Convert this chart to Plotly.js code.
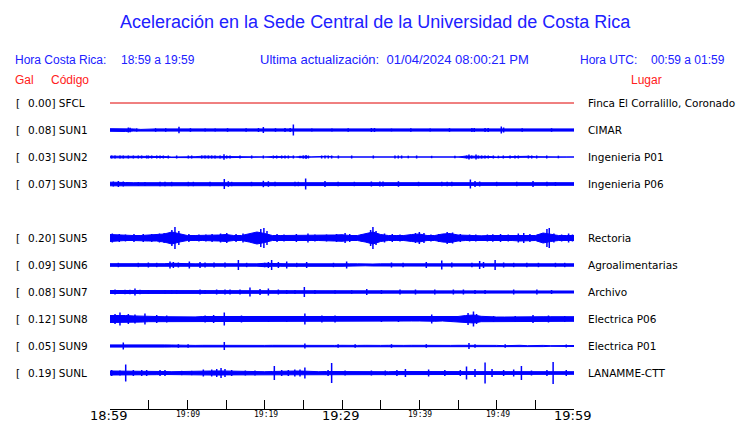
<!DOCTYPE html>
<html><head><meta charset="utf-8">
<script src="https://cdn.plot.ly/plotly-3.0.1.min.js"></script>
<style>html,body{margin:0;padding:0;background:#fff}#chart{width:740px;height:423px}</style>
</head><body><div id="chart"></div>
<script>
// ---- data ----
const codes = ["SFCL","SUN1","SUN2","SUN3","SUN5","SUN6","SUN7","SUN8","SUN9","SUNL"];
const places = ["Finca El Corralillo, Coronado","CIMAR","Ingenieria P01","Ingenieria P06","Rectoria","Agroalimentarias","Archivo","Electrica P06","Electrica P01","LANAMME-CTT"];
const peakGal = ["0.00","0.08","0.03","0.07","0.20","0.09","0.08","0.12","0.05","0.19"];
const rowIndex = [0,1,2,3,5,6,7,8,9,10];
const tickMinutes = [0,5,10,15,20,25,30,35,40,45,50,55,60];
const tickLabels = ["18:59","","19:09","","19:19","","19:29","","19:39","","19:49","","19:59"];
const bigTicks = ["18:59","19:29","19:59"];
// envelope half-amplitudes, sampled each minute 0..60 (display px)
const env_SFCL = [0,0,0,0,0,0,0,0,0,0, 0,0,0,0,0,0,0,0,0,0, 0,0,0,0,0,0,0,0,0,0, 0,0,0,0,0,0,0,0,0,0, 0,0,0,0,0,0,0,0,0,0, 0,0,0,0,0,0,0,0,0,0,0];
const env_SUN1 = [1.8,1.8,2.0,1.6,1.1,1.6,1.6,1.6,1.6,1.6, 1.6,1.3,1.1,1.3,1.6,1.6,1.1,1.3,1.1,1.8, 1.8,1.6,1.6,1.8,1.6,1.1,1.3,1.6,1.6,1.6, 1.6,1.6,1.6,1.8,1.5,1.1,1.3,1.1,1.3,1.1, 1.3,1.6,1.6,1.1,1.3,1.6,1.7,1.8,1.8,1.6, 1.8,1.6,1.6,1.6,1.6,1.1,1.6,1.6,1.6,1.6,1.6];
const env_SUN2 = [1.3,1.3,1.3,1.2,1.3,1.3,1.0,1.0,0.5,0.5, 1.2,0.8,1.3,1.2,1.3,1.2,0.5,0.5,0.5,0.5, 0.5,1.0,1.2,0.8,0.5,1.3,0.5,1.2,1.2,0.5, 0.5,0.5,0.5,0.5,0.6,0.5,0.5,1.2,0.5,0.5, 0.5,0.5,0.5,0.5,0.5,0.5,1.4,1.4,1.3,1.0, 0.6,0.8,1.0,0.5,1.2,0.8,0.5,0.5,0.5,0.5,0.5];
const env_SUN3 = [2.3,2.4,2.0,1.8,1.8,1.8,1.9,1.9,1.8,1.8, 1.8,1.8,1.8,1.9,2.0,1.8,1.8,1.8,1.8,2.0, 2.0,1.8,1.8,1.8,1.8,2.0,1.8,1.9,1.8,1.8, 1.8,1.8,1.8,1.9,2.0,1.8,2.0,1.8,1.8,1.8, 1.8,1.8,1.9,1.8,1.8,1.8,2.5,2.2,1.8,1.8, 1.8,1.8,1.8,1.8,2.2,1.8,1.8,1.8,1.8,1.8,1.8];
const env_SUN5 = [4.0,3.5,3.0,3.0,3.0,3.5,3.5,4.5,6.5,4.5, 3.0,3.0,3.0,3.0,3.5,4.0,3.0,3.0,4.5,6.5, 5.0,3.0,3.0,3.0,3.0,3.0,3.0,3.0,3.0,3.5, 3.8,3.0,3.0,4.5,6.5,4.0,3.0,3.0,3.0,4.0, 4.5,3.0,3.0,4.5,5.0,3.5,3.0,3.0,2.7,3.0, 3.0,3.0,3.0,3.5,3.5,3.0,5.5,4.0,3.0,3.0,3.0];
const env_SUN6 = [1.8,1.7,1.7,1.7,1.7,1.8,1.7,1.8,2.2,1.8, 2.0,1.7,1.8,1.7,1.7,1.7,2.0,1.7,1.7,1.7, 2.2,1.8,1.8,1.7,1.7,1.8,1.7,1.7,1.7,1.8, 1.8,1.7,1.7,1.3,1.5,1.7,1.7,1.7,1.7,1.7, 1.8,1.7,2.0,1.8,1.7,1.7,1.7,2.0,1.8,2.2, 1.8,1.7,1.7,1.7,1.7,1.7,1.7,1.7,1.7,1.7,1.7];
const env_SUN7 = [2.0,2.0,1.8,1.7,1.5,1.6,1.6,1.8,1.8,1.8, 1.5,1.5,1.6,1.5,1.9,1.9,1.9,2.0,1.8,1.6, 1.7,1.6,1.5,1.5,1.5,1.6,1.5,1.5,1.5,1.6, 1.5,1.6,1.5,1.5,1.5,1.5,1.5,1.8,1.8,1.7, 1.8,1.5,1.6,1.5,1.8,1.7,1.5,1.6,1.5,1.5, 1.5,1.5,1.6,1.5,1.5,1.7,1.5,1.5,1.5,1.5,1.5];
const env_SUN8 = [4.0,4.2,4.0,3.6,3.6,3.2,3.0,2.8,2.6,2.5, 2.5,2.6,3.0,3.0,3.2,3.0,2.8,2.7,2.5,2.5, 2.6,2.5,2.6,2.5,2.6,2.8,2.6,3.0,3.0,3.0, 2.5,2.5,2.5,2.5,2.5,2.7,2.5,2.7,2.5,2.5, 2.5,3.0,2.8,2.5,2.6,3.0,4.0,4.5,3.2,2.6, 2.5,2.5,2.7,2.5,3.0,2.7,2.8,2.8,2.8,2.8,2.8];
const env_SUN9 = [1.6,1.7,1.6,1.6,1.6,1.6,1.6,1.6,1.5,1.2, 1.2,1.1,1.2,1.1,1.2,1.3,1.1,1.1,1.2,1.1, 1.1,1.2,1.1,1.2,1.2,1.3,1.1,1.1,1.2,1.1, 1.2,0.8,1.1,1.2,0.8,1.1,1.2,0.8,1.1,1.2, 1.1,0.8,1.1,1.2,1.1,1.2,1.3,1.1,1.1,1.2, 1.1,0.8,1.1,1.2,0.8,1.1,1.1,0.8,1.1,0.8,1.0];
const env_SUNL = [2.5,2.5,2.6,2.4,2.2,2.2,2.2,2.0,1.8,1.8, 1.8,1.9,2.3,2.5,2.6,2.4,2.0,1.9,1.9,1.8, 1.8,2.0,2.4,2.5,2.5,2.4,1.9,1.8,2.0,1.9, 1.8,1.8,1.8,1.8,1.9,1.9,1.8,2.0,2.0,1.8, 1.8,1.9,1.8,1.8,1.8,1.9,2.2,2.3,2.3,2.0, 1.8,1.8,2.2,2.2,2.2,1.9,1.8,2.0,1.8,1.8,1.8];
// spikes: [minute, half-amplitude px]
const spk_SFCL = [];
const spk_SUN1 = [[2.37,2.5],[2.6,2.2],[3.45,1.6],[5.9,1.8],[7.2,1.8],[8.92,3.2],[10.4,1.8],[12.3,1.4],[13.6,1.4],[15.2,1.8],[17.6,1.8],[19.2,2.0],[19.83,3.0],[21.4,1.8],[22.63,2.0],[23.3,2.0],[23.71,5.5],[26.1,1.4],[28.7,1.4],[30.8,1.8],[33.8,2.0],[34.2,2.0],[36.4,1.4],[38.9,1.8],[41.4,1.6],[43.9,1.8],[46.8,2.0],[47.1,2.0],[48.5,2.0],[48.9,2.0],[50.6,3.5],[50.9,2.5],[53.3,1.8],[57.1,1.8]];
const spk_SUN2 = [[14.74,2.8],[25.35,2.0],[46.42,2.5],[47.33,2.5],[6.9,1.5],[8.62,1.5],[16.81,1.5],[18.32,1.5],[19.83,1.5],[23.71,1.5],[24.57,1.3],[29.53,1.5],[31.25,1.5],[34.05,1.5],[38.57,1.3],[39.65,1.5],[41.59,1.2],[44.6,1.2],[50.22,1.3],[50.86,1.5],[56.47,1.5],[57.98,1.3],
  [0.22,1.5],[0.65,1.5],[1.29,1.5],[1.72,1.5],[2.37,1.5],[3.02,1.5],[3.66,1.5],[4.09,1.5],[4.74,1.5],[4.96,1.5],[5.39,1.5],[6.04,1.5],[6.47,1.5],[7.54,1.5],[10.13,1.5],[10.56,1.5],[11.86,1.5],[12.29,1.5],[12.72,1.5],[13.15,1.5],[13.58,1.5],[14.23,1.5],[15.09,1.5],[15.52,1.5],[21.12,1.5],[21.55,1.5],[22.2,1.5],[22.63,1.5],[23.06,1.5],[25.0,1.5],[25.65,1.5],[27.37,1.5],[27.8,1.5],[28.23,1.5],[28.66,1.5],[36.85,1.5],[37.28,1.5],[37.71,1.5],[46.12,1.5],[46.77,1.5],[47.63,1.5],[48.06,1.5],[48.49,1.5],[48.92,1.5],[49.57,1.5],[51.73,1.5],[52.37,1.5],[52.8,1.5],[54.1,1.5],[54.53,1.5],[55.17,1.5]];
const spk_SUN3 = [[0.43,2.5],[1.08,3.0],[1.72,2.5],[3.66,1.9],[4.52,1.9],[6.47,2.2],[7.11,2.2],[7.97,2.2],[10.13,2.2],[10.78,2.2],[12.93,2.2],[14.78,5.0],[15.3,2.8],[15.73,2.2],[18.3,2.2],[19.83,3.2],[20.48,2.8],[21.34,2.2],[23.92,2.2],[24.36,2.2],[25.3,5.5],[27.8,3.0],[29.5,2.2],[31.6,2.2],[33.8,2.5],[34.9,2.5],[35.3,2.5],[37.3,2.8],[39.9,2.2],[42.9,2.2],[43.6,2.2],[44.2,2.2],[46.6,4.5],[47.2,3.0],[47.8,2.5],[50.0,2.2],[52.6,2.2],[54.7,3.0],[56.5,2.2],[57.6,2.0]];
const spk_SUN5 = [[8.4,11],[8.0,8],[8.9,7],[19.5,9],[19.9,10],[20.3,7],[34.0,11],[33.7,8],[34.4,7],[56.5,9],[56.8,10],[40.0,6],[43.6,6],[44.3,5.5],[15.1,5],[14.3,4.5],[0.3,4.5],[1.2,4.0],[2.0,3.5],[3.1,4],[4.3,4],[5.4,4],[6.4,4.5],[7.0,5],[10.2,4],[11.5,3.5],[12.4,3.5],[13.2,4],[16.3,4],[17.2,4.5],[18.0,4],[21.6,4],[22.5,3.5],[24.1,4],[25.6,4.5],[26.5,3.5],[28.0,3.5],[29.3,4],[30.4,5],[31.0,4],[32.5,3.5],[35.5,4.5],[36.5,4],[37.5,3.5],[39.5,5],[40.6,5],[41.5,3.5],[42.5,4],[45.3,4],[46.5,3.5],[47.3,3.5],[48.8,3.5],[49.5,3.8],[50.5,4],[51.5,3.5],[52.8,4.5],[53.5,5],[54.3,4],[55.4,4],[57.4,4.5],[58.4,3.5],[59.3,4.5],[59.8,3.5]];
const spk_SUN6 = [[1.08,2.2],[3.66,2.2],[4.96,2.5],[6.04,2.2],[7.76,3.5],[8.19,3.0],[8.84,2.5],[10.26,3.5],[11.64,3.0],[12.29,2.5],[13.45,2.5],[14.87,2.5],[16.6,5.0],[17.67,2.2],[20.0,2.2],[20.48,3.0],[20.9,5.0],[21.77,3.0],[22.85,3.5],[24.14,2.2],[25.43,3.0],[28.9,2.2],[30.6,3.5],[36.4,2.5],[37.9,2.2],[40.9,3.0],[42.9,4.5],[44.2,2.5],[46.8,2.2],[47.8,4.0],[48.3,3.0],[49.8,5.0],[50.9,2.5],[52.2,2.2],[53.9,2.2],[55.4,2.2],[57.6,2.2],[58.8,2.2]];
const spk_SUN7 = [[0.65,2.5],[1.94,2.2],[2.58,2.2],[3.23,3.5],[3.88,2.2],[4.96,2.0],[7.11,2.0],[7.97,2.0],[8.62,2.0],[11.64,2.5],[12.29,2.0],[13.79,2.5],[14.87,2.5],[15.52,2.5],[16.81,2.5],[18.1,4.5],[19.4,3.0],[20.48,3.5],[21.77,2.5],[22.85,2.0],[23.92,2.0],[25.13,5.0],[26.5,2.0],[29.1,1.8],[31.25,1.8],[33.2,3.0],[35.1,2.0],[37.5,2.5],[39.5,2.5],[42.0,2.5],[44.4,2.5],[45.7,2.5],[47.2,2.0],[48.5,2.0],[52.2,2.5],[55.2,2.5],[57.1,2.0]];
const spk_SUN8 = [[0.65,5],[1.29,6.5],[2.37,5],[3.23,4.5],[4.52,5.5],[6.04,4],[7.33,3.5],[12.3,3.5],[13.4,4],[14.78,6.5],[17.0,3.5],[20.5,3],[22.85,3],[25.2,5.5],[27.4,3.5],[29.1,3.5],[35.1,3],[37.3,3],[41.6,4.5],[44.2,3],[46.3,6],[47.0,7.5],[47.4,5],[49.6,3],[52.4,3],[54.7,4],[56.7,3.5],[58.8,3]];
const spk_SUN9 = [[1.72,3.5],[14.78,4.0],[25.2,2.5],[46.42,3.0],[59.0,1.5],[8.84,1.8],[10.1,1.8],[29.5,1.8],[31.7,1.8],[36.4,1.8],[40.9,1.8],[47.2,1.8],[51.1,1.8]];
const spk_SUNL = [[0.22,3],[1.29,2.5],[2.03,8.5],[3.02,3],[4.1,3],[4.74,3],[6.47,3],[7.11,3],[9.27,2.2],[10.56,2.2],[12.07,3.5],[13.15,3.5],[13.8,4],[14.36,5],[14.87,4],[15.73,3],[17.5,2.5],[18.75,2.5],[21.25,7],[22.2,3],[23.06,3],[23.9,3.5],[24.57,3.5],[25.2,5.5],[28.2,3],[28.66,10],[30.4,2.5],[33.8,2.5],[35.6,2.5],[37.1,3],[38.2,4],[41.2,3.5],[43.3,3],[45.3,3],[46.1,6.5],[47.2,4],[48.5,10.5],[49.4,4],[50.9,3],[52.2,3.5],[53.2,7],[54.5,2.5],[56.5,3],[57.3,11],[59.0,3]];

const envList = [env_SFCL,env_SUN1,env_SUN2,env_SUN3,env_SUN5,env_SUN6,env_SUN7,env_SUN8,env_SUN9,env_SUNL];
const spkList = [spk_SFCL,spk_SUN1,spk_SUN2,spk_SUN3,spk_SUN5,spk_SUN6,spk_SUN7,spk_SUN8,spk_SUN9,spk_SUNL];

// ---- drawing ----
const PX_PER_ROW = 27;
const BLUE = "#0000ff", TXTBLUE = "#2020ff", TXTRED = "#ff2020";
const traces = [];
envList.forEach((env, k) => {
  const row = rowIndex[k];
  const tt = env.map((_, i) => i);
  if (k === 0) {
    traces.push({type:"scatter", mode:"lines", x: tt, y: env.map(a => row + a/PX_PER_ROW),
      line:{color:"#e00000", width:1}, hoverinfo:"skip", showlegend:false});
    return;
  }
  const up = env.map(a => row - Math.max(a-0.5,0)/PX_PER_ROW);
  const dn = env.map(a => row + Math.max(a-0.5,0)/PX_PER_ROW);
  traces.push({type:"scatter", mode:"lines", x: tt.concat(tt.slice().reverse()),
    y: up.concat(dn.slice().reverse()), fill:"toself", fillcolor:BLUE,
    line:{color:BLUE, width:1}, hoverinfo:"skip", showlegend:false});
  const sx = [], sy = [];
  spkList[k].forEach(([t, a]) => { sx.push(t, t, null); sy.push(row - a/PX_PER_ROW, row + a/PX_PER_ROW, null); });
  traces.push({type:"scatter", mode:"lines", x: sx, y: sy, connectgaps:false,
    line:{color:BLUE, width:1.5}, hoverinfo:"skip", showlegend:false});
});

const L = 110, PW = 464, B = 409, PH = 319;
const px = v => (v - L)/PW;
const py = v => (B - v)/PH;
const ann = [];
function txt(x, y, text, opts) {
  ann.push(Object.assign({xref:"paper", yref:"paper", x:px(x), y:py(y), text:text, showarrow:false,
    xanchor:"left", yanchor:"middle", borderpad:0,
    font:{family:"Liberation Sans, Arial, sans-serif", size:12, color:TXTBLUE}}, opts || {}));
}
txt(375.5, 22, "Aceleración en la Sede Central de la Universidad de Costa Rica", {xanchor:"center", font:{family:"Liberation Sans, Arial, sans-serif", size:18, color:TXTBLUE}});
txt(14, 60, "Hora Costa Rica:");
txt(120, 60, "18:59 a 19:59");
txt(259, 60, "Ultima actualización:\u00a0\u00a001/04/2024 08:00:21 PM", {font:{family:"Liberation Sans, Arial, sans-serif", size:13, color:TXTBLUE}});
txt(579, 60, "Hora UTC:");
txt(650, 60, "00:59 a 01:59");
txt(14, 80, "Gal", {font:{family:"Liberation Sans, Arial, sans-serif", size:12, color:TXTRED}});
txt(49.5, 80, "Código", {font:{family:"Liberation Sans, Arial, sans-serif", size:12, color:TXTRED}});
txt(629.5, 80, "Lugar", {font:{family:"Liberation Sans, Arial, sans-serif", size:12, color:TXTRED}});
const lblFont = {family:"DejaVu Sans, sans-serif", size:10.5, color:"#000"};
codes.forEach((c, k) => {
  const row = rowIndex[k];
  ann.push({xref:"paper", yref:"y", x:px(14.5), y:row, text:"[", showarrow:false, xanchor:"left", yanchor:"middle", borderpad:0, font:lblFont});
  ann.push({xref:"paper", yref:"y", x:px(27), y:row, text:peakGal[k] + "] " + c, showarrow:false, xanchor:"left", yanchor:"middle", borderpad:0, font:lblFont});
  ann.push({xref:"paper", yref:"y", x:px(586.5), y:row, text:places[k], showarrow:false, xanchor:"left", yanchor:"middle", borderpad:0, font:lblFont});
});
// x tick labels (big every 30 min, small otherwise)
tickMinutes.forEach((m, i) => {
  const s = tickLabels[i];
  if (!s) return;
  const big = bigTicks.includes(s);
  ann.push({xref:"x", yref:"paper", x:m, y:py(big ? 415 : 414.5), text:s, showarrow:false,
    xanchor:"center", yanchor:"middle", borderpad:0, xshift: big ? -2 : 1,
    font:{family: big ? "DejaVu Sans, sans-serif" : "DejaVu Sans Mono, monospace", size: big ? 13 : 8, color:"#000"}});
});

const layout = {
  width:740, height:423, paper_bgcolor:"#fff", plot_bgcolor:"#fff",
  margin:{l:L, r:740-L-PW, t:90, b:423-B, pad:0},
  showlegend:false,
  xaxis:{range:[0,60], tickmode:"array", tickvals:tickMinutes, showticklabels:false,
    ticks:"inside", ticklen:9, tickwidth:1, tickcolor:"#000", showline:true, linecolor:"#000", linewidth:1,
    showgrid:false, zeroline:false, fixedrange:true},
  yaxis:{range:[10 + 36/27, -13/27], visible:false, showgrid:false, zeroline:false, fixedrange:true},
  annotations: ann
};
Plotly.newPlot("chart", traces, layout, {staticPlot:true, displayModeBar:false});
</script></body></html>
